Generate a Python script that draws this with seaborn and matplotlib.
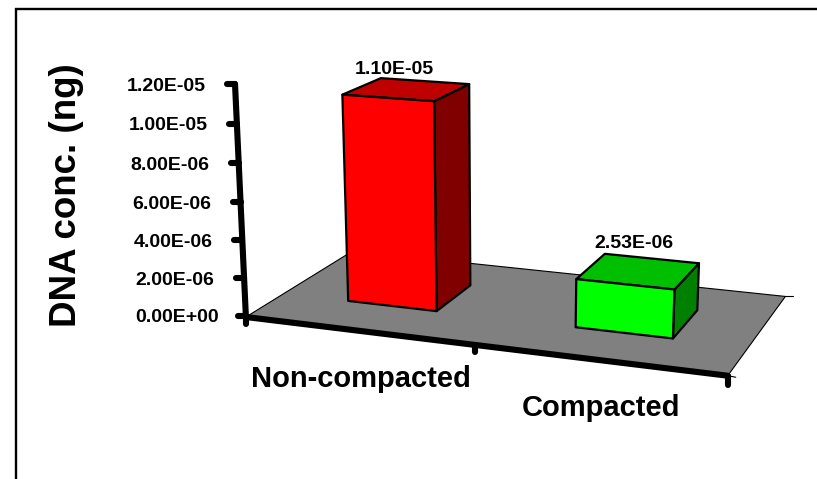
import numpy as np
import seaborn as sns
import matplotlib
matplotlib.use("Agg")
import matplotlib.pyplot as plt
from matplotlib.patches import Rectangle
from matplotlib.transforms import IdentityTransform, Transform

CATEGORIES = ["Non-compacted", "Compacted"]
VALUES = [1.10e-5, 2.53e-6]
VALUE_LABELS = ["1.10E-05", "2.53E-06"]
TICK_VALUES = [0, 2e-6, 4e-6, 6e-6, 8e-6, 1e-5, 1.2e-5]
TICK_LABELS = ["0.00E+00", "2.00E-06", "4.00E-06", "6.00E-06", "8.00E-06", "1.00E-05", "1.20E-05"]
YLABEL = "DNA conc. (ng)"

# perspective of the fake 3D box: (x, value in 1e-6, depth, 1) -> picture pixels / 1000
CAMERA = np.array([
    [0.21133, -0.00175, 0.15492, 0.35756],
    [0.01177, -0.02006, -0.0352, 0.33062],
    [-0.0487, -0.00349, 0.12917, 1.0],
])

H = 479
DEPTH_FRONT, DEPTH_BACK = 0.33, 0.70


def project(x, value, depth):
    x, value = np.asarray(x, float), np.asarray(value, float)
    pts = np.stack([x, value * 1e6, np.full_like(x, depth), np.ones_like(x)], axis=-1)
    w = pts @ CAMERA.T
    return np.stack([1000 * w[..., 0] / w[..., 2], H - 1000 * w[..., 1] / w[..., 2]], axis=-1)


class DepthPlane(Transform):
    input_dims = output_dims = 2

    def __init__(self, plane):
        super().__init__()
        self.plane = plane

    def transform_non_affine(self, values):
        values = np.asarray(values)
        return project(values[:, 0], values[:, 1], self.plane)


sns.set_style("white")
plt.rcParams["font.family"] = ["Liberation Sans", "DejaVu Sans"]
plt.rcParams["font.weight"] = "bold"
plt.rcParams["text.color"] = "black"

fig = plt.figure(figsize=(8.17, 4.79), dpi=100)
ax = fig.add_axes([0, 0, 1, 1])
px = IdentityTransform()

# chart border, only top and left are inside the picture
fig.add_artist(Rectangle((16, -10), 900, H - 9 + 10, fill=False, ec="black", lw=1.7, transform=px))

x0, x1 = -0.5, 1.5
top = TICK_VALUES[-1]


def poly(corners, color, lw=0.8, z=2):
    pts = np.array([project(x, v, d) for x, v, d in corners])
    ax.fill(pts[:, 0], pts[:, 1], fc=color, ec="black", lw=lw, transform=px, clip_on=False, zorder=z, joinstyle="round")


def line(a, b, lw=4.4, z=3):
    ax.plot([a[0], b[0]], [a[1], b[1]], color="black", lw=lw, transform=px, clip_on=False,
            solid_capstyle="round", zorder=z)


# seaborn draws the front faces, then they get pushed onto the bar front plane
sns.barplot(x=CATEGORIES, y=VALUES, hue=CATEGORIES, palette=["#FF0000", "#00FF00"], saturation=1,
            width=0.4, edgecolor="black", linewidth=1.6, legend=False, ax=ax, zorder=4)
bars = list(ax.patches)
ax.set_xlim(-0.5, 1.5)
ax.set_ylim(0, top)
ax.axis("off")

poly([(x0, 0, 0), (x1, 0, 0), (x1, 0, 1), (x0, 0, 1)], "#808080", lw=0.8, z=1)

front = DepthPlane(DEPTH_FRONT)
side_colors = ["#800000", "#008000"]
top_colors = ["#BF0000", "#00BF00"]
for bar, side, cap in zip(bars, side_colors, top_colors):
    bar.set_transform(front)
    bar.set_clip_on(False)
    bar.set_joinstyle("round")
    l, r, v = bar.get_x(), bar.get_x() + bar.get_width(), bar.get_height()
    poly([(r, 0, DEPTH_FRONT), (r, 0, DEPTH_BACK), (r, v, DEPTH_BACK), (r, v, DEPTH_FRONT)], side, lw=1.6, z=3.5)
    poly([(l, v, DEPTH_FRONT), (r, v, DEPTH_FRONT), (r, v, DEPTH_BACK), (l, v, DEPTH_BACK)], cap, lw=1.6, z=3.5)

# value axis, nudged up a little since the fitted camera sits low on this edge
nudge = np.array([0, 1.5])
a0 = project(x0, 0, 0)
line(a0, project(x0, top, 0) + nudge)
line(a0, a0 + [0, -7])
for v, lab in zip(TICK_VALUES, TICK_LABELS):
    p = project(x0, v, 0) + nudge
    line(p, p + [-8, 0])
    ax.text(p[0] - 69, p[1], lab, transform=px, fontsize=14, ha="center", va="center_baseline", clip_on=False)

# category axis
end = project(x1, 0, 0)
mid = project(0.5, 0, 0)
back = project(x1, 0, 1)
line(a0, end)
line(mid, mid + [0, -7])
line(end, end + [0, -9])
line(end, end + [8, -1.5], lw=0.8)
line(back, back + [8, 0], lw=0.8, z=1)

for i, name in enumerate(CATEGORIES):
    p = project(i, 0, 0)
    ax.text(p[0] + 3, p[1] - 45, name, transform=px, fontsize=21, ha="center", va="center_baseline", clip_on=False)

LABEL_SHIFT = [(-30, 14), (-18, 17)]
for i, (v, lab) in enumerate(zip(VALUES, VALUE_LABELS)):
    p = project(i, v, DEPTH_BACK)
    ax.text(p[0] + LABEL_SHIFT[i][0], p[1] + LABEL_SHIFT[i][1], lab, transform=px, fontsize=14,
            ha="center", va="center_baseline", clip_on=False)

ax.text(66, H - 195, YLABEL, transform=px, fontsize=26.5, rotation=90, ha="center", va="center", clip_on=False)

fig.savefig("out.png")
